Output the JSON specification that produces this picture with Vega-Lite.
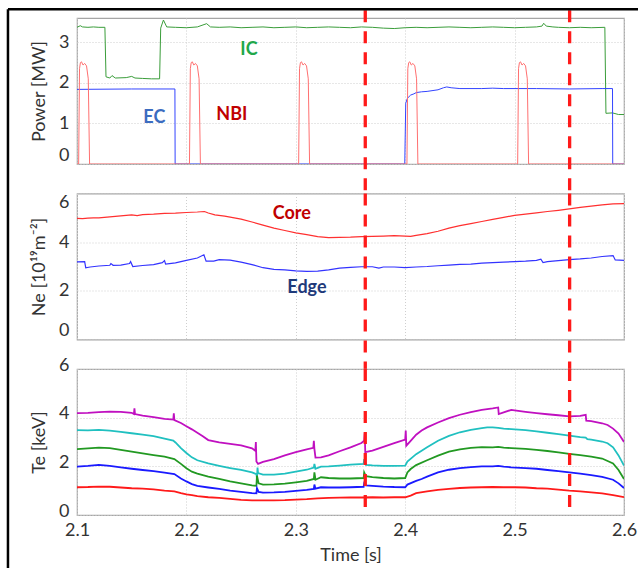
{
  "$schema": "https://vega.github.io/schema/vega-lite/v6.json",
  "padding": {"left": 6, "top": 7, "right": 0, "bottom": 0},
  "autosize": {"type": "pad"},
  "background": "white",
  "spacing": 29.5,
  "bounds": "flush",
  "resolve": {"scale": {"color": "independent", "y": "independent"}},
  "config": {
    "font": "Lato",
    "view": {"stroke": "#a6a6a6", "strokeWidth": 1.2},
    "axis": {
      "domain": false, "ticks": false, "grid": true,
      "gridColor": "#cfcfcf", "gridDash": [1, 2], "gridWidth": 1,
      "labelFont": "Lato", "labelFontSize": 18, "labelColor": "#333333", "labelPadding": 8,
      "titleFont": "Lato", "titleFontSize": 18, "titleFontWeight": "normal", "titleColor": "#333333", "titlePadding": 10
    }
  },
  "datasets": {
    "vlines": [{"t": 2.3635}, {"t": 2.5503}],
    "power": [
      {"t": 2.100, "v": 3.37, "series": "IC"}, {"t": 2.103, "v": 3.41, "series": "IC"}, {"t": 2.105, "v": 3.38, "series": "IC"},
      {"t": 2.110, "v": 3.37, "series": "IC"}, {"t": 2.115, "v": 3.38, "series": "IC"}, {"t": 2.120, "v": 3.37, "series": "IC"},
      {"t": 2.1255, "v": 3.37, "series": "IC"}, {"t": 2.1265, "v": 2.15, "series": "IC"}, {"t": 2.130, "v": 2.12, "series": "IC"},
      {"t": 2.132, "v": 2.18, "series": "IC"}, {"t": 2.135, "v": 2.12, "series": "IC"}, {"t": 2.145, "v": 2.13, "series": "IC"},
      {"t": 2.150, "v": 2.16, "series": "IC"}, {"t": 2.153, "v": 2.12, "series": "IC"}, {"t": 2.160, "v": 2.11, "series": "IC"},
      {"t": 2.168, "v": 2.10, "series": "IC"}, {"t": 2.1755, "v": 2.10, "series": "IC"}, {"t": 2.1765, "v": 3.35, "series": "IC"},
      {"t": 2.179, "v": 3.55, "series": "IC"}, {"t": 2.182, "v": 3.38, "series": "IC"}, {"t": 2.190, "v": 3.37, "series": "IC"},
      {"t": 2.200, "v": 3.36, "series": "IC"}, {"t": 2.210, "v": 3.38, "series": "IC"}, {"t": 2.2185, "v": 3.46, "series": "IC"},
      {"t": 2.222, "v": 3.38, "series": "IC"}, {"t": 2.230, "v": 3.37, "series": "IC"}, {"t": 2.240, "v": 3.38, "series": "IC"},
      {"t": 2.250, "v": 3.36, "series": "IC"}, {"t": 2.260, "v": 3.37, "series": "IC"}, {"t": 2.270, "v": 3.38, "series": "IC"},
      {"t": 2.280, "v": 3.36, "series": "IC"}, {"t": 2.290, "v": 3.37, "series": "IC"}, {"t": 2.300, "v": 3.38, "series": "IC"},
      {"t": 2.310, "v": 3.36, "series": "IC"}, {"t": 2.320, "v": 3.37, "series": "IC"}, {"t": 2.330, "v": 3.38, "series": "IC"},
      {"t": 2.340, "v": 3.37, "series": "IC"}, {"t": 2.350, "v": 3.36, "series": "IC"}, {"t": 2.360, "v": 3.38, "series": "IC"},
      {"t": 2.370, "v": 3.37, "series": "IC"}, {"t": 2.380, "v": 3.35, "series": "IC"}, {"t": 2.390, "v": 3.34, "series": "IC"},
      {"t": 2.400, "v": 3.36, "series": "IC"}, {"t": 2.410, "v": 3.37, "series": "IC"}, {"t": 2.420, "v": 3.36, "series": "IC"},
      {"t": 2.430, "v": 3.37, "series": "IC"}, {"t": 2.440, "v": 3.38, "series": "IC"}, {"t": 2.450, "v": 3.37, "series": "IC"},
      {"t": 2.460, "v": 3.36, "series": "IC"}, {"t": 2.470, "v": 3.37, "series": "IC"}, {"t": 2.480, "v": 3.38, "series": "IC"},
      {"t": 2.490, "v": 3.37, "series": "IC"}, {"t": 2.500, "v": 3.36, "series": "IC"}, {"t": 2.510, "v": 3.37, "series": "IC"},
      {"t": 2.520, "v": 3.38, "series": "IC"}, {"t": 2.525, "v": 3.40, "series": "IC"}, {"t": 2.5266, "v": 3.47, "series": "IC"},
      {"t": 2.529, "v": 3.40, "series": "IC"}, {"t": 2.535, "v": 3.38, "series": "IC"}, {"t": 2.540, "v": 3.37, "series": "IC"},
      {"t": 2.550, "v": 3.36, "series": "IC"}, {"t": 2.560, "v": 3.37, "series": "IC"}, {"t": 2.570, "v": 3.36, "series": "IC"},
      {"t": 2.5825, "v": 3.37, "series": "IC"}, {"t": 2.5835, "v": 1.25, "series": "IC"}, {"t": 2.5895, "v": 1.26, "series": "IC"},
      {"t": 2.5950, "v": 1.22, "series": "IC"}, {"t": 2.600, "v": 1.22, "series": "IC"},

      {"t": 2.100, "v": 1.84, "series": "EC"}, {"t": 2.150, "v": 1.85, "series": "EC"}, {"t": 2.1895, "v": 1.85, "series": "EC"},
      {"t": 2.1897, "v": 0, "series": "EC"}, {"t": 2.3996, "v": 0, "series": "EC"}, {"t": 2.4005, "v": 1.5, "series": "EC"},
      {"t": 2.402, "v": 1.62, "series": "EC"}, {"t": 2.405, "v": 1.70, "series": "EC"}, {"t": 2.408, "v": 1.73, "series": "EC"},
      {"t": 2.410, "v": 1.76, "series": "EC"}, {"t": 2.415, "v": 1.78, "series": "EC"}, {"t": 2.420, "v": 1.79, "series": "EC"},
      {"t": 2.430, "v": 1.83, "series": "EC"}, {"t": 2.435, "v": 1.88, "series": "EC"}, {"t": 2.438, "v": 1.90, "series": "EC"},
      {"t": 2.442, "v": 1.88, "series": "EC"}, {"t": 2.450, "v": 1.86, "series": "EC"}, {"t": 2.470, "v": 1.86, "series": "EC"},
      {"t": 2.480, "v": 1.87, "series": "EC"}, {"t": 2.490, "v": 1.86, "series": "EC"}, {"t": 2.520, "v": 1.86, "series": "EC"},
      {"t": 2.550, "v": 1.85, "series": "EC"}, {"t": 2.580, "v": 1.86, "series": "EC"}, {"t": 2.5895, "v": 1.86, "series": "EC"},
      {"t": 2.5897, "v": 0, "series": "EC"}, {"t": 2.600, "v": 0, "series": "EC"},

      {"t": 2.100, "v": 0, "series": "NBI"},
      {"t": 2.1015, "v": 0, "series": "NBI"}, {"t": 2.1023, "v": 2.35, "series": "NBI"}, {"t": 2.1031, "v": 2.50, "series": "NBI"},
      {"t": 2.1041, "v": 2.52, "series": "NBI"}, {"t": 2.1055, "v": 2.44, "series": "NBI"}, {"t": 2.1070, "v": 2.48, "series": "NBI"},
      {"t": 2.1087, "v": 2.42, "series": "NBI"}, {"t": 2.1103, "v": 2.10, "series": "NBI"}, {"t": 2.1115, "v": 0, "series": "NBI"},
      {"t": 2.2028, "v": 0, "series": "NBI"}, {"t": 2.2036, "v": 2.35, "series": "NBI"}, {"t": 2.2044, "v": 2.50, "series": "NBI"},
      {"t": 2.2054, "v": 2.52, "series": "NBI"}, {"t": 2.2068, "v": 2.44, "series": "NBI"}, {"t": 2.2083, "v": 2.48, "series": "NBI"},
      {"t": 2.2100, "v": 2.42, "series": "NBI"}, {"t": 2.2116, "v": 2.10, "series": "NBI"}, {"t": 2.2128, "v": 0, "series": "NBI"},
      {"t": 2.3026, "v": 0, "series": "NBI"}, {"t": 2.3034, "v": 2.35, "series": "NBI"}, {"t": 2.3042, "v": 2.50, "series": "NBI"},
      {"t": 2.3052, "v": 2.52, "series": "NBI"}, {"t": 2.3066, "v": 2.44, "series": "NBI"}, {"t": 2.3081, "v": 2.48, "series": "NBI"},
      {"t": 2.3098, "v": 2.42, "series": "NBI"}, {"t": 2.3114, "v": 2.10, "series": "NBI"}, {"t": 2.3126, "v": 0, "series": "NBI"},
      {"t": 2.4016, "v": 0, "series": "NBI"}, {"t": 2.4024, "v": 2.35, "series": "NBI"}, {"t": 2.4032, "v": 2.50, "series": "NBI"},
      {"t": 2.4042, "v": 2.52, "series": "NBI"}, {"t": 2.4056, "v": 2.44, "series": "NBI"}, {"t": 2.4071, "v": 2.48, "series": "NBI"},
      {"t": 2.4088, "v": 2.42, "series": "NBI"}, {"t": 2.4104, "v": 2.10, "series": "NBI"}, {"t": 2.4116, "v": 0, "series": "NBI"},
      {"t": 2.5028, "v": 0, "series": "NBI"}, {"t": 2.5036, "v": 2.35, "series": "NBI"}, {"t": 2.5044, "v": 2.50, "series": "NBI"},
      {"t": 2.5054, "v": 2.52, "series": "NBI"}, {"t": 2.5068, "v": 2.44, "series": "NBI"}, {"t": 2.5083, "v": 2.48, "series": "NBI"},
      {"t": 2.5100, "v": 2.42, "series": "NBI"}, {"t": 2.5116, "v": 2.10, "series": "NBI"}, {"t": 2.5128, "v": 0, "series": "NBI"},
      {"t": 2.600, "v": 0, "series": "NBI"}
    ],
    "ne": [
      {"t": 2.100, "v": 4.98, "series": "Core"}, {"t": 2.105, "v": 4.97, "series": "Core"}, {"t": 2.110, "v": 4.99, "series": "Core"},
      {"t": 2.115, "v": 5.00, "series": "Core"}, {"t": 2.120, "v": 5.00, "series": "Core"}, {"t": 2.130, "v": 5.04, "series": "Core"},
      {"t": 2.140, "v": 5.08, "series": "Core"}, {"t": 2.145, "v": 5.10, "series": "Core"}, {"t": 2.150, "v": 5.12, "series": "Core"},
      {"t": 2.155, "v": 5.09, "series": "Core"}, {"t": 2.160, "v": 5.13, "series": "Core"}, {"t": 2.170, "v": 5.15, "series": "Core"},
      {"t": 2.180, "v": 5.18, "series": "Core"}, {"t": 2.190, "v": 5.19, "series": "Core"}, {"t": 2.200, "v": 5.22, "series": "Core"},
      {"t": 2.210, "v": 5.24, "series": "Core"}, {"t": 2.2165, "v": 5.26, "series": "Core"}, {"t": 2.220, "v": 5.20, "series": "Core"},
      {"t": 2.226, "v": 5.12, "series": "Core"}, {"t": 2.235, "v": 5.07, "series": "Core"}, {"t": 2.245, "v": 4.99, "series": "Core"},
      {"t": 2.250, "v": 4.95, "series": "Core"}, {"t": 2.260, "v": 4.83, "series": "Core"}, {"t": 2.270, "v": 4.70, "series": "Core"},
      {"t": 2.275, "v": 4.64, "series": "Core"}, {"t": 2.280, "v": 4.58, "series": "Core"}, {"t": 2.290, "v": 4.48, "series": "Core"},
      {"t": 2.300, "v": 4.38, "series": "Core"}, {"t": 2.310, "v": 4.31, "series": "Core"}, {"t": 2.320, "v": 4.23, "series": "Core"},
      {"t": 2.330, "v": 4.19, "series": "Core"}, {"t": 2.340, "v": 4.20, "series": "Core"}, {"t": 2.350, "v": 4.21, "series": "Core"},
      {"t": 2.360, "v": 4.23, "series": "Core"}, {"t": 2.370, "v": 4.24, "series": "Core"}, {"t": 2.380, "v": 4.25, "series": "Core"},
      {"t": 2.390, "v": 4.27, "series": "Core"}, {"t": 2.400, "v": 4.25, "series": "Core"}, {"t": 2.405, "v": 4.24, "series": "Core"},
      {"t": 2.410, "v": 4.28, "series": "Core"}, {"t": 2.420, "v": 4.35, "series": "Core"}, {"t": 2.430, "v": 4.45, "series": "Core"},
      {"t": 2.440, "v": 4.58, "series": "Core"}, {"t": 2.450, "v": 4.68, "series": "Core"}, {"t": 2.460, "v": 4.76, "series": "Core"},
      {"t": 2.470, "v": 4.85, "series": "Core"}, {"t": 2.480, "v": 4.94, "series": "Core"}, {"t": 2.490, "v": 5.02, "series": "Core"},
      {"t": 2.500, "v": 5.10, "series": "Core"}, {"t": 2.510, "v": 5.15, "series": "Core"}, {"t": 2.520, "v": 5.20, "series": "Core"},
      {"t": 2.530, "v": 5.26, "series": "Core"}, {"t": 2.540, "v": 5.31, "series": "Core"}, {"t": 2.550, "v": 5.37, "series": "Core"},
      {"t": 2.560, "v": 5.43, "series": "Core"}, {"t": 2.570, "v": 5.48, "series": "Core"}, {"t": 2.580, "v": 5.53, "series": "Core"},
      {"t": 2.590, "v": 5.57, "series": "Core"}, {"t": 2.600, "v": 5.58, "series": "Core"},

      {"t": 2.100, "v": 3.19, "series": "Edge"}, {"t": 2.107, "v": 3.20, "series": "Edge"}, {"t": 2.108, "v": 2.95, "series": "Edge"},
      {"t": 2.112, "v": 2.98, "series": "Edge"}, {"t": 2.120, "v": 3.02, "series": "Edge"}, {"t": 2.130, "v": 3.05, "series": "Edge"},
      {"t": 2.131, "v": 3.12, "series": "Edge"}, {"t": 2.133, "v": 3.05, "series": "Edge"}, {"t": 2.140, "v": 3.06, "series": "Edge"},
      {"t": 2.148, "v": 3.12, "series": "Edge"}, {"t": 2.149, "v": 3.20, "series": "Edge"}, {"t": 2.151, "v": 3.00, "series": "Edge"},
      {"t": 2.160, "v": 3.04, "series": "Edge"}, {"t": 2.170, "v": 3.08, "series": "Edge"}, {"t": 2.178, "v": 3.16, "series": "Edge"},
      {"t": 2.180, "v": 3.24, "series": "Edge"}, {"t": 2.181, "v": 3.10, "series": "Edge"}, {"t": 2.190, "v": 3.15, "series": "Edge"},
      {"t": 2.200, "v": 3.25, "series": "Edge"}, {"t": 2.210, "v": 3.35, "series": "Edge"}, {"t": 2.216, "v": 3.48, "series": "Edge"},
      {"t": 2.218, "v": 3.22, "series": "Edge"}, {"t": 2.225, "v": 3.22, "series": "Edge"}, {"t": 2.230, "v": 3.28, "series": "Edge"},
      {"t": 2.240, "v": 3.26, "series": "Edge"}, {"t": 2.250, "v": 3.18, "series": "Edge"}, {"t": 2.260, "v": 3.08, "series": "Edge"},
      {"t": 2.270, "v": 2.95, "series": "Edge"}, {"t": 2.280, "v": 2.88, "series": "Edge"}, {"t": 2.290, "v": 2.86, "series": "Edge"},
      {"t": 2.300, "v": 2.82, "series": "Edge"}, {"t": 2.310, "v": 2.80, "series": "Edge"}, {"t": 2.320, "v": 2.81, "series": "Edge"},
      {"t": 2.330, "v": 2.86, "series": "Edge"}, {"t": 2.340, "v": 2.93, "series": "Edge"}, {"t": 2.350, "v": 2.96, "series": "Edge"},
      {"t": 2.360, "v": 2.99, "series": "Edge"}, {"t": 2.370, "v": 2.99, "series": "Edge"}, {"t": 2.376, "v": 2.93, "series": "Edge"},
      {"t": 2.380, "v": 2.98, "series": "Edge"}, {"t": 2.390, "v": 2.98, "series": "Edge"}, {"t": 2.400, "v": 2.95, "series": "Edge"},
      {"t": 2.410, "v": 2.98, "series": "Edge"}, {"t": 2.420, "v": 3.00, "series": "Edge"}, {"t": 2.430, "v": 3.03, "series": "Edge"},
      {"t": 2.440, "v": 3.06, "series": "Edge"}, {"t": 2.450, "v": 3.09, "series": "Edge"}, {"t": 2.460, "v": 3.10, "series": "Edge"},
      {"t": 2.470, "v": 3.14, "series": "Edge"}, {"t": 2.480, "v": 3.16, "series": "Edge"}, {"t": 2.490, "v": 3.18, "series": "Edge"},
      {"t": 2.500, "v": 3.20, "series": "Edge"}, {"t": 2.510, "v": 3.22, "series": "Edge"}, {"t": 2.520, "v": 3.25, "series": "Edge"},
      {"t": 2.524, "v": 3.30, "series": "Edge"}, {"t": 2.526, "v": 3.16, "series": "Edge"}, {"t": 2.530, "v": 3.20, "series": "Edge"},
      {"t": 2.540, "v": 3.24, "series": "Edge"}, {"t": 2.550, "v": 3.28, "series": "Edge"}, {"t": 2.560, "v": 3.31, "series": "Edge"},
      {"t": 2.570, "v": 3.35, "series": "Edge"}, {"t": 2.580, "v": 3.41, "series": "Edge"}, {"t": 2.590, "v": 3.45, "series": "Edge"},
      {"t": 2.592, "v": 3.27, "series": "Edge"}, {"t": 2.600, "v": 3.25, "series": "Edge"}
    ],
    "te": [
      {"t": 2.100, "v": 4.19, "series": "T1"}, {"t": 2.110, "v": 4.20, "series": "T1"}, {"t": 2.120, "v": 4.23, "series": "T1"},
      {"t": 2.130, "v": 4.25, "series": "T1"}, {"t": 2.140, "v": 4.24, "series": "T1"}, {"t": 2.150, "v": 4.20, "series": "T1"},
      {"t": 2.152, "v": 4.15, "series": "T1"}, {"t": 2.1525, "v": 4.38, "series": "T1"}, {"t": 2.153, "v": 4.15, "series": "T1"},
      {"t": 2.160, "v": 4.08, "series": "T1"}, {"t": 2.170, "v": 4.02, "series": "T1"}, {"t": 2.180, "v": 3.95, "series": "T1"},
      {"t": 2.188, "v": 3.92, "series": "T1"}, {"t": 2.1885, "v": 4.18, "series": "T1"}, {"t": 2.189, "v": 3.90, "series": "T1"},
      {"t": 2.195, "v": 3.78, "series": "T1"}, {"t": 2.200, "v": 3.65, "series": "T1"}, {"t": 2.205, "v": 3.52, "series": "T1"},
      {"t": 2.210, "v": 3.38, "series": "T1"}, {"t": 2.215, "v": 3.24, "series": "T1"}, {"t": 2.220, "v": 3.08, "series": "T1"},
      {"t": 2.230, "v": 2.98, "series": "T1"}, {"t": 2.240, "v": 2.92, "series": "T1"}, {"t": 2.250, "v": 2.86, "series": "T1"},
      {"t": 2.260, "v": 2.74, "series": "T1"}, {"t": 2.263, "v": 2.64, "series": "T1"}, {"t": 2.2635, "v": 3.00, "series": "T1"},
      {"t": 2.264, "v": 2.20, "series": "T1"}, {"t": 2.2655, "v": 2.10, "series": "T1"}, {"t": 2.270, "v": 2.18, "series": "T1"},
      {"t": 2.280, "v": 2.30, "series": "T1"}, {"t": 2.290, "v": 2.45, "series": "T1"}, {"t": 2.300, "v": 2.58, "series": "T1"},
      {"t": 2.310, "v": 2.70, "series": "T1"}, {"t": 2.316, "v": 2.76, "series": "T1"}, {"t": 2.3165, "v": 3.05, "series": "T1"},
      {"t": 2.317, "v": 2.72, "series": "T1"}, {"t": 2.318, "v": 2.36, "series": "T1"}, {"t": 2.323, "v": 2.37, "series": "T1"},
      {"t": 2.330, "v": 2.45, "series": "T1"}, {"t": 2.340, "v": 2.62, "series": "T1"}, {"t": 2.350, "v": 2.78, "series": "T1"},
      {"t": 2.360, "v": 2.96, "series": "T1"}, {"t": 2.3625, "v": 3.05, "series": "T1"}, {"t": 2.363, "v": 3.36, "series": "T1"},
      {"t": 2.3635, "v": 2.58, "series": "T1"}, {"t": 2.370, "v": 2.65, "series": "T1"}, {"t": 2.380, "v": 2.80, "series": "T1"},
      {"t": 2.390, "v": 2.95, "series": "T1"}, {"t": 2.400, "v": 3.10, "series": "T1"}, {"t": 2.4005, "v": 3.47, "series": "T1"},
      {"t": 2.401, "v": 2.85, "series": "T1"}, {"t": 2.405, "v": 3.05, "series": "T1"}, {"t": 2.410, "v": 3.30, "series": "T1"},
      {"t": 2.415, "v": 3.47, "series": "T1"}, {"t": 2.420, "v": 3.60, "series": "T1"}, {"t": 2.430, "v": 3.80, "series": "T1"},
      {"t": 2.440, "v": 3.98, "series": "T1"}, {"t": 2.450, "v": 4.12, "series": "T1"}, {"t": 2.460, "v": 4.23, "series": "T1"},
      {"t": 2.470, "v": 4.32, "series": "T1"}, {"t": 2.480, "v": 4.38, "series": "T1"}, {"t": 2.485, "v": 4.42, "series": "T1"},
      {"t": 2.4855, "v": 4.15, "series": "T1"}, {"t": 2.490, "v": 4.22, "series": "T1"}, {"t": 2.497, "v": 4.32, "series": "T1"},
      {"t": 2.500, "v": 4.30, "series": "T1"}, {"t": 2.510, "v": 4.24, "series": "T1"}, {"t": 2.520, "v": 4.19, "series": "T1"},
      {"t": 2.530, "v": 4.14, "series": "T1"}, {"t": 2.540, "v": 4.10, "series": "T1"}, {"t": 2.550, "v": 4.05, "series": "T1"},
      {"t": 2.560, "v": 4.07, "series": "T1"}, {"t": 2.565, "v": 4.12, "series": "T1"}, {"t": 2.5655, "v": 3.88, "series": "T1"},
      {"t": 2.570, "v": 3.86, "series": "T1"}, {"t": 2.580, "v": 3.77, "series": "T1"}, {"t": 2.585, "v": 3.70, "series": "T1"},
      {"t": 2.590, "v": 3.55, "series": "T1"}, {"t": 2.595, "v": 3.35, "series": "T1"}, {"t": 2.600, "v": 3.00, "series": "T1"},

      {"t": 2.100, "v": 3.49, "series": "T2"}, {"t": 2.110, "v": 3.48, "series": "T2"}, {"t": 2.120, "v": 3.50, "series": "T2"},
      {"t": 2.130, "v": 3.47, "series": "T2"}, {"t": 2.140, "v": 3.42, "series": "T2"}, {"t": 2.150, "v": 3.36, "series": "T2"},
      {"t": 2.160, "v": 3.30, "series": "T2"}, {"t": 2.170, "v": 3.24, "series": "T2"}, {"t": 2.180, "v": 3.14, "series": "T2"},
      {"t": 2.188, "v": 3.06, "series": "T2"}, {"t": 2.190, "v": 2.98, "series": "T2"}, {"t": 2.195, "v": 2.75, "series": "T2"},
      {"t": 2.200, "v": 2.55, "series": "T2"}, {"t": 2.205, "v": 2.37, "series": "T2"}, {"t": 2.210, "v": 2.25, "series": "T2"},
      {"t": 2.220, "v": 2.12, "series": "T2"}, {"t": 2.230, "v": 2.02, "series": "T2"}, {"t": 2.240, "v": 1.93, "series": "T2"},
      {"t": 2.250, "v": 1.85, "series": "T2"}, {"t": 2.260, "v": 1.75, "series": "T2"}, {"t": 2.264, "v": 1.68, "series": "T2"},
      {"t": 2.2645, "v": 1.52, "series": "T2"}, {"t": 2.265, "v": 1.95, "series": "T2"}, {"t": 2.2655, "v": 1.72, "series": "T2"},
      {"t": 2.270, "v": 1.66, "series": "T2"}, {"t": 2.280, "v": 1.66, "series": "T2"}, {"t": 2.290, "v": 1.70, "series": "T2"},
      {"t": 2.300, "v": 1.78, "series": "T2"}, {"t": 2.310, "v": 1.86, "series": "T2"}, {"t": 2.3165, "v": 1.95, "series": "T2"},
      {"t": 2.317, "v": 2.10, "series": "T2"}, {"t": 2.318, "v": 1.90, "series": "T2"}, {"t": 2.323, "v": 1.99, "series": "T2"},
      {"t": 2.330, "v": 2.00, "series": "T2"}, {"t": 2.340, "v": 2.03, "series": "T2"}, {"t": 2.350, "v": 2.07, "series": "T2"},
      {"t": 2.362, "v": 2.10, "series": "T2"}, {"t": 2.3625, "v": 2.30, "series": "T2"}, {"t": 2.364, "v": 2.06, "series": "T2"},
      {"t": 2.370, "v": 2.04, "series": "T2"}, {"t": 2.380, "v": 2.02, "series": "T2"}, {"t": 2.390, "v": 2.02, "series": "T2"},
      {"t": 2.400, "v": 2.03, "series": "T2"}, {"t": 2.402, "v": 2.20, "series": "T2"}, {"t": 2.410, "v": 2.50, "series": "T2"},
      {"t": 2.415, "v": 2.64, "series": "T2"}, {"t": 2.420, "v": 2.78, "series": "T2"}, {"t": 2.430, "v": 3.05, "series": "T2"},
      {"t": 2.440, "v": 3.25, "series": "T2"}, {"t": 2.450, "v": 3.40, "series": "T2"}, {"t": 2.460, "v": 3.50, "series": "T2"},
      {"t": 2.470, "v": 3.57, "series": "T2"}, {"t": 2.475, "v": 3.60, "series": "T2"}, {"t": 2.480, "v": 3.60, "series": "T2"},
      {"t": 2.485, "v": 3.58, "series": "T2"}, {"t": 2.490, "v": 3.55, "series": "T2"}, {"t": 2.497, "v": 3.53, "series": "T2"},
      {"t": 2.510, "v": 3.49, "series": "T2"}, {"t": 2.520, "v": 3.44, "series": "T2"}, {"t": 2.530, "v": 3.38, "series": "T2"},
      {"t": 2.540, "v": 3.32, "series": "T2"}, {"t": 2.550, "v": 3.26, "series": "T2"}, {"t": 2.560, "v": 3.20, "series": "T2"},
      {"t": 2.565, "v": 3.18, "series": "T2"}, {"t": 2.5665, "v": 3.12, "series": "T2"}, {"t": 2.570, "v": 3.10, "series": "T2"},
      {"t": 2.580, "v": 3.02, "series": "T2"}, {"t": 2.585, "v": 2.95, "series": "T2"}, {"t": 2.590, "v": 2.78, "series": "T2"},
      {"t": 2.595, "v": 2.45, "series": "T2"}, {"t": 2.600, "v": 2.03, "series": "T2"},

      {"t": 2.100, "v": 2.71, "series": "T3"}, {"t": 2.110, "v": 2.74, "series": "T3"}, {"t": 2.120, "v": 2.77, "series": "T3"},
      {"t": 2.130, "v": 2.75, "series": "T3"}, {"t": 2.140, "v": 2.68, "series": "T3"}, {"t": 2.150, "v": 2.60, "series": "T3"},
      {"t": 2.160, "v": 2.53, "series": "T3"}, {"t": 2.170, "v": 2.46, "series": "T3"}, {"t": 2.180, "v": 2.40, "series": "T3"},
      {"t": 2.189, "v": 2.30, "series": "T3"}, {"t": 2.195, "v": 2.10, "series": "T3"}, {"t": 2.200, "v": 1.92, "series": "T3"},
      {"t": 2.205, "v": 1.78, "series": "T3"}, {"t": 2.210, "v": 1.70, "series": "T3"}, {"t": 2.220, "v": 1.58, "series": "T3"},
      {"t": 2.230, "v": 1.48, "series": "T3"}, {"t": 2.240, "v": 1.38, "series": "T3"}, {"t": 2.250, "v": 1.30, "series": "T3"},
      {"t": 2.260, "v": 1.22, "series": "T3"}, {"t": 2.264, "v": 1.20, "series": "T3"}, {"t": 2.2645, "v": 1.62, "series": "T3"},
      {"t": 2.266, "v": 1.30, "series": "T3"}, {"t": 2.270, "v": 1.25, "series": "T3"}, {"t": 2.280, "v": 1.26, "series": "T3"},
      {"t": 2.290, "v": 1.29, "series": "T3"}, {"t": 2.300, "v": 1.34, "series": "T3"}, {"t": 2.310, "v": 1.40, "series": "T3"},
      {"t": 2.3165, "v": 1.48, "series": "T3"}, {"t": 2.317, "v": 1.75, "series": "T3"}, {"t": 2.318, "v": 1.45, "series": "T3"},
      {"t": 2.323, "v": 1.55, "series": "T3"}, {"t": 2.330, "v": 1.52, "series": "T3"}, {"t": 2.340, "v": 1.50, "series": "T3"},
      {"t": 2.350, "v": 1.50, "series": "T3"}, {"t": 2.362, "v": 1.52, "series": "T3"}, {"t": 2.3625, "v": 1.75, "series": "T3"},
      {"t": 2.364, "v": 1.60, "series": "T3"}, {"t": 2.370, "v": 1.56, "series": "T3"}, {"t": 2.380, "v": 1.52, "series": "T3"},
      {"t": 2.390, "v": 1.50, "series": "T3"}, {"t": 2.400, "v": 1.52, "series": "T3"}, {"t": 2.402, "v": 1.75, "series": "T3"},
      {"t": 2.405, "v": 1.89, "series": "T3"}, {"t": 2.410, "v": 2.05, "series": "T3"}, {"t": 2.420, "v": 2.25, "series": "T3"},
      {"t": 2.430, "v": 2.44, "series": "T3"}, {"t": 2.440, "v": 2.60, "series": "T3"}, {"t": 2.450, "v": 2.70, "series": "T3"},
      {"t": 2.460, "v": 2.76, "series": "T3"}, {"t": 2.470, "v": 2.79, "series": "T3"}, {"t": 2.480, "v": 2.78, "series": "T3"},
      {"t": 2.485, "v": 2.80, "series": "T3"}, {"t": 2.490, "v": 2.77, "series": "T3"}, {"t": 2.497, "v": 2.75, "series": "T3"},
      {"t": 2.510, "v": 2.72, "series": "T3"}, {"t": 2.520, "v": 2.68, "series": "T3"}, {"t": 2.530, "v": 2.63, "series": "T3"},
      {"t": 2.540, "v": 2.57, "series": "T3"}, {"t": 2.550, "v": 2.51, "series": "T3"}, {"t": 2.560, "v": 2.46, "series": "T3"},
      {"t": 2.570, "v": 2.40, "series": "T3"}, {"t": 2.580, "v": 2.32, "series": "T3"}, {"t": 2.590, "v": 2.12, "series": "T3"},
      {"t": 2.595, "v": 1.85, "series": "T3"}, {"t": 2.600, "v": 1.48, "series": "T3"},

      {"t": 2.100, "v": 1.99, "series": "T4"}, {"t": 2.110, "v": 2.02, "series": "T4"}, {"t": 2.120, "v": 2.06, "series": "T4"},
      {"t": 2.130, "v": 2.02, "series": "T4"}, {"t": 2.140, "v": 1.96, "series": "T4"}, {"t": 2.150, "v": 1.90, "series": "T4"},
      {"t": 2.160, "v": 1.85, "series": "T4"}, {"t": 2.170, "v": 1.80, "series": "T4"}, {"t": 2.180, "v": 1.74, "series": "T4"},
      {"t": 2.189, "v": 1.68, "series": "T4"}, {"t": 2.195, "v": 1.50, "series": "T4"}, {"t": 2.200, "v": 1.38, "series": "T4"},
      {"t": 2.205, "v": 1.27, "series": "T4"}, {"t": 2.210, "v": 1.20, "series": "T4"}, {"t": 2.220, "v": 1.13, "series": "T4"},
      {"t": 2.230, "v": 1.07, "series": "T4"}, {"t": 2.240, "v": 1.00, "series": "T4"}, {"t": 2.250, "v": 0.95, "series": "T4"},
      {"t": 2.260, "v": 0.90, "series": "T4"}, {"t": 2.264, "v": 0.89, "series": "T4"}, {"t": 2.2645, "v": 1.10, "series": "T4"},
      {"t": 2.266, "v": 0.95, "series": "T4"}, {"t": 2.270, "v": 0.92, "series": "T4"}, {"t": 2.280, "v": 0.93, "series": "T4"},
      {"t": 2.290, "v": 0.95, "series": "T4"}, {"t": 2.300, "v": 0.99, "series": "T4"}, {"t": 2.310, "v": 1.03, "series": "T4"},
      {"t": 2.3165, "v": 1.07, "series": "T4"}, {"t": 2.317, "v": 1.25, "series": "T4"}, {"t": 2.318, "v": 1.08, "series": "T4"},
      {"t": 2.323, "v": 1.14, "series": "T4"}, {"t": 2.330, "v": 1.13, "series": "T4"}, {"t": 2.340, "v": 1.13, "series": "T4"},
      {"t": 2.350, "v": 1.14, "series": "T4"}, {"t": 2.362, "v": 1.16, "series": "T4"}, {"t": 2.3625, "v": 1.30, "series": "T4"},
      {"t": 2.364, "v": 1.22, "series": "T4"}, {"t": 2.370, "v": 1.20, "series": "T4"}, {"t": 2.380, "v": 1.17, "series": "T4"},
      {"t": 2.390, "v": 1.15, "series": "T4"}, {"t": 2.400, "v": 1.14, "series": "T4"}, {"t": 2.402, "v": 1.25, "series": "T4"},
      {"t": 2.410, "v": 1.40, "series": "T4"}, {"t": 2.415, "v": 1.48, "series": "T4"}, {"t": 2.420, "v": 1.58, "series": "T4"},
      {"t": 2.430, "v": 1.75, "series": "T4"}, {"t": 2.440, "v": 1.86, "series": "T4"}, {"t": 2.450, "v": 1.93, "series": "T4"},
      {"t": 2.460, "v": 1.97, "series": "T4"}, {"t": 2.470, "v": 2.00, "series": "T4"}, {"t": 2.480, "v": 2.00, "series": "T4"},
      {"t": 2.485, "v": 2.02, "series": "T4"}, {"t": 2.490, "v": 1.99, "series": "T4"}, {"t": 2.497, "v": 1.96, "series": "T4"},
      {"t": 2.510, "v": 1.93, "series": "T4"}, {"t": 2.520, "v": 1.90, "series": "T4"}, {"t": 2.530, "v": 1.85, "series": "T4"},
      {"t": 2.540, "v": 1.80, "series": "T4"}, {"t": 2.550, "v": 1.75, "series": "T4"}, {"t": 2.560, "v": 1.70, "series": "T4"},
      {"t": 2.570, "v": 1.64, "series": "T4"}, {"t": 2.580, "v": 1.57, "series": "T4"}, {"t": 2.590, "v": 1.45, "series": "T4"},
      {"t": 2.595, "v": 1.30, "series": "T4"}, {"t": 2.600, "v": 1.11, "series": "T4"},

      {"t": 2.100, "v": 1.14, "series": "T5"}, {"t": 2.110, "v": 1.15, "series": "T5"}, {"t": 2.120, "v": 1.17, "series": "T5"},
      {"t": 2.130, "v": 1.16, "series": "T5"}, {"t": 2.140, "v": 1.13, "series": "T5"}, {"t": 2.150, "v": 1.10, "series": "T5"},
      {"t": 2.160, "v": 1.08, "series": "T5"}, {"t": 2.170, "v": 1.05, "series": "T5"}, {"t": 2.180, "v": 1.00, "series": "T5"},
      {"t": 2.189, "v": 0.97, "series": "T5"}, {"t": 2.195, "v": 0.90, "series": "T5"}, {"t": 2.200, "v": 0.85, "series": "T5"},
      {"t": 2.205, "v": 0.82, "series": "T5"}, {"t": 2.210, "v": 0.78, "series": "T5"}, {"t": 2.220, "v": 0.73, "series": "T5"},
      {"t": 2.230, "v": 0.70, "series": "T5"}, {"t": 2.240, "v": 0.66, "series": "T5"}, {"t": 2.250, "v": 0.62, "series": "T5"},
      {"t": 2.260, "v": 0.60, "series": "T5"}, {"t": 2.270, "v": 0.60, "series": "T5"}, {"t": 2.280, "v": 0.60, "series": "T5"},
      {"t": 2.290, "v": 0.61, "series": "T5"}, {"t": 2.300, "v": 0.63, "series": "T5"}, {"t": 2.310, "v": 0.65, "series": "T5"},
      {"t": 2.320, "v": 0.68, "series": "T5"}, {"t": 2.330, "v": 0.70, "series": "T5"}, {"t": 2.340, "v": 0.71, "series": "T5"},
      {"t": 2.350, "v": 0.72, "series": "T5"}, {"t": 2.360, "v": 0.72, "series": "T5"}, {"t": 2.370, "v": 0.73, "series": "T5"},
      {"t": 2.380, "v": 0.72, "series": "T5"}, {"t": 2.390, "v": 0.73, "series": "T5"}, {"t": 2.400, "v": 0.73, "series": "T5"},
      {"t": 2.405, "v": 0.80, "series": "T5"}, {"t": 2.410, "v": 0.90, "series": "T5"}, {"t": 2.420, "v": 0.97, "series": "T5"},
      {"t": 2.430, "v": 1.03, "series": "T5"}, {"t": 2.440, "v": 1.07, "series": "T5"}, {"t": 2.450, "v": 1.11, "series": "T5"},
      {"t": 2.460, "v": 1.13, "series": "T5"}, {"t": 2.470, "v": 1.14, "series": "T5"}, {"t": 2.480, "v": 1.15, "series": "T5"},
      {"t": 2.490, "v": 1.14, "series": "T5"}, {"t": 2.500, "v": 1.14, "series": "T5"}, {"t": 2.510, "v": 1.13, "series": "T5"},
      {"t": 2.520, "v": 1.10, "series": "T5"}, {"t": 2.530, "v": 1.08, "series": "T5"}, {"t": 2.540, "v": 1.04, "series": "T5"},
      {"t": 2.550, "v": 1.00, "series": "T5"}, {"t": 2.560, "v": 0.97, "series": "T5"}, {"t": 2.570, "v": 0.93, "series": "T5"},
      {"t": 2.580, "v": 0.89, "series": "T5"}, {"t": 2.590, "v": 0.82, "series": "T5"}, {"t": 2.600, "v": 0.73, "series": "T5"}
    ]
  },
  "vconcat": [
    {
      "width": 547, "height": 146,
      "layer": [
        {
          "data": {"name": "power"},
          "mark": {"type": "line", "strokeWidth": 1, "clip": true},
          "encoding": {
            "x": {"field": "t", "type": "quantitative", "scale": {"domain": [2.1, 2.6], "nice": false, "zero": false},
                  "axis": {"labels": false, "title": null, "values": [2.1, 2.2, 2.3, 2.4, 2.5, 2.6]}},
            "y": {"field": "v", "type": "quantitative", "scale": {"domain": [0, 3.6], "nice": false},
                  "axis": {"title": "Power [MW]", "values": [0, 1, 2, 3], "labelFlush": true}},
            "color": {"field": "series", "type": "nominal", "legend": null,
                      "scale": {"domain": ["IC", "EC", "NBI"], "range": ["#3a9d3a", "#3344ff", "#ff7070"]}}
          }
        },
        {
          "data": {"values": [{"t": 2.2572, "v": 2.81, "label": "IC"}]},
          "mark": {"type": "text", "fontWeight": "bold", "fontSize": 18, "color": "#22a84a", "align": "center", "baseline": "middle"},
          "encoding": {"x": {"field": "t", "type": "quantitative"}, "y": {"field": "v", "type": "quantitative"}, "text": {"field": "label"}}
        },
        {
          "data": {"values": [{"t": 2.1707, "v": 1.14, "label": "EC"}]},
          "mark": {"type": "text", "fontWeight": "bold", "fontSize": 18, "color": "#3c6cc0", "align": "center", "baseline": "middle"},
          "encoding": {"x": {"field": "t", "type": "quantitative"}, "y": {"field": "v", "type": "quantitative"}, "text": {"field": "label"}}
        },
        {
          "data": {"values": [{"t": 2.2415, "v": 1.22, "label": "NBI"}]},
          "mark": {"type": "text", "fontWeight": "bold", "fontSize": 18, "color": "#c00000", "align": "center", "baseline": "middle"},
          "encoding": {"x": {"field": "t", "type": "quantitative"}, "y": {"field": "v", "type": "quantitative"}, "text": {"field": "label"}}
        },
        {
          "data": {"name": "vlines"},
          "mark": {"type": "rule", "color": "#ff1a1a", "strokeWidth": 3.3, "strokeDash": [12, 9], "clip": false},
          "encoding": {"x": {"field": "t", "type": "quantitative"}, "y": {"datum": 3.79}, "y2": {"datum": -0.727}}
        },
        {
          "data": {"values": [{}]},
          "mark": {"type": "rule", "color": "black", "strokeWidth": 2.5, "clip": false},
          "encoding": {"x": {"datum": 2.0369}, "x2": {"datum": 2.6135}, "y": {"datum": 3.816}}
        },
        {
          "data": {"values": [{}]},
          "mark": {"type": "rule", "color": "black", "strokeWidth": 2.5, "clip": false},
          "encoding": {"x": {"datum": 2.0369}, "y": {"datum": 3.816}, "y2": {"datum": -9.96}}
        }
      ]
    },
    {
      "width": 547, "height": 146,
      "layer": [
        {
          "data": {"name": "ne"},
          "mark": {"type": "line", "strokeWidth": 1.2, "clip": true},
          "encoding": {
            "x": {"field": "t", "type": "quantitative", "scale": {"domain": [2.1, 2.6], "nice": false, "zero": false},
                  "axis": {"labels": false, "title": null, "values": [2.1, 2.2, 2.3, 2.4, 2.5, 2.6]}},
            "y": {"field": "v", "type": "quantitative", "scale": {"domain": [0, 6], "nice": false},
                  "axis": {"title": "Ne [10¹⁹m⁻²]", "values": [0, 1, 2, 3, 4, 5, 6], "labelFlush": true,
                           "labelExpr": "datum.value % 2 == 0 ? datum.label : ''"}},
            "color": {"field": "series", "type": "nominal", "legend": null,
                      "scale": {"domain": ["Core", "Edge"], "range": ["#ff3030", "#3333ff"]}}
          }
        },
        {
          "data": {"values": [{"t": 2.2964, "v": 5.15, "label": "Core"}]},
          "mark": {"type": "text", "fontWeight": "bold", "fontSize": 18, "color": "#c00000", "align": "center", "baseline": "middle"},
          "encoding": {"x": {"field": "t", "type": "quantitative"}, "y": {"field": "v", "type": "quantitative"}, "text": {"field": "label"}}
        },
        {
          "data": {"values": [{"t": 2.3102, "v": 2.1, "label": "Edge"}]},
          "mark": {"type": "text", "fontWeight": "bold", "fontSize": 18, "color": "#1f3a7a", "align": "center", "baseline": "middle"},
          "encoding": {"x": {"field": "t", "type": "quantitative"}, "y": {"field": "v", "type": "quantitative"}, "text": {"field": "label"}}
        },
        {
          "data": {"name": "vlines"},
          "mark": {"type": "rule", "color": "#ff1a1a", "strokeWidth": 3.3, "strokeDash": [12, 9], "clip": false},
          "encoding": {"x": {"field": "t", "type": "quantitative"}, "y": {"datum": 6}, "y2": {"datum": -1.212}}
        }
      ]
    },
    {
      "width": 547, "height": 146,
      "layer": [
        {
          "data": {"name": "te"},
          "mark": {"type": "line", "strokeWidth": 1.8, "clip": true},
          "encoding": {
            "x": {"field": "t", "type": "quantitative", "scale": {"domain": [2.1, 2.6], "nice": false, "zero": false},
                  "axis": {"title": "Time [s]", "values": [2.1, 2.2, 2.3, 2.4, 2.5, 2.6], "format": ".1f", "labelFlush": false, "labelPadding": 6, "titlePadding": 7}},
            "y": {"field": "v", "type": "quantitative", "scale": {"domain": [0, 6], "nice": false},
                  "axis": {"title": "Te [keV]", "values": [0, 1, 2, 3, 4, 5, 6], "labelOffset": -4,
                           "labelExpr": "datum.value % 2 == 0 ? datum.label : ''"}},
            "color": {"field": "series", "type": "nominal", "legend": null,
                      "scale": {"domain": ["T1", "T2", "T3", "T4", "T5"], "range": ["#c010c0", "#20c0c0", "#229922", "#1a1aff", "#ff1a1a"]}}
          }
        },
        {
          "data": {"name": "vlines"},
          "mark": {"type": "rule", "color": "#ff1a1a", "strokeWidth": 3.3, "strokeDash": [12, 9], "clip": false},
          "encoding": {"x": {"field": "t", "type": "quantitative"}, "y": {"datum": 6}, "y2": {"datum": 0}}
        }
      ]
    }
  ]
}
